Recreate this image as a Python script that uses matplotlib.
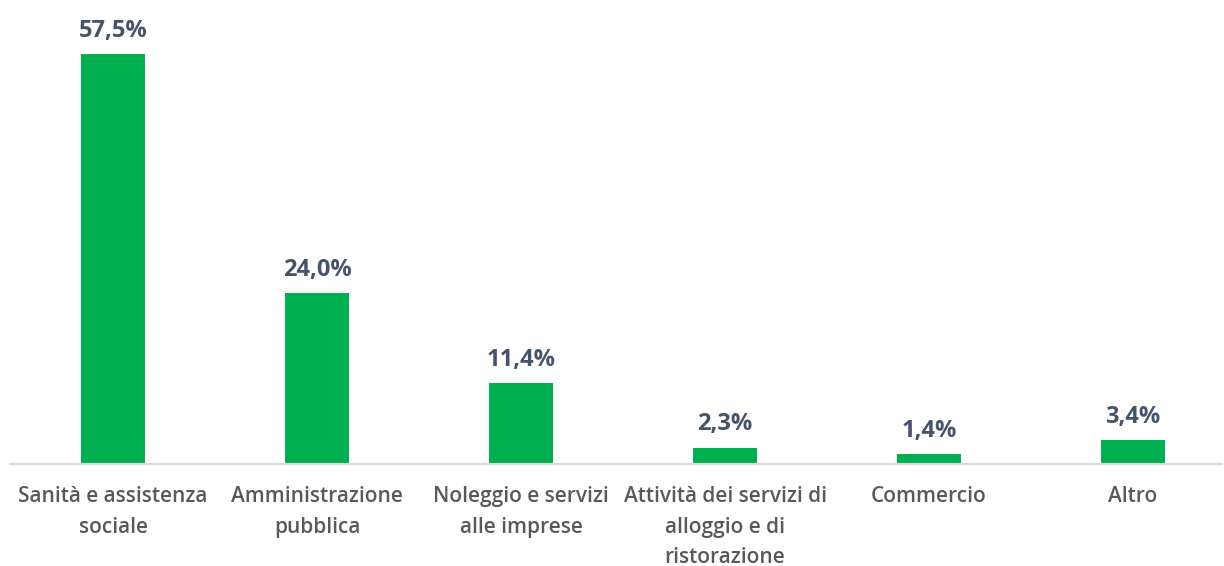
import matplotlib
matplotlib.use("Agg")
import matplotlib.pyplot as plt

categorie = ["Sanità e assistenza\nsociale", "Amministrazione\npubblica",
             "Noleggio e servizi\nalle imprese", "Attività dei servizi di\nalloggio e di\nristorazione",
             "Commercio", "Altro"]
valori = [57.5, 24.0, 11.4, 2.3, 1.4, 3.4]
etichette = ["57,5%", "24,0%", "11,4%", "2,3%", "1,4%", "3,4%"]

plt.rcParams['font.family'] = ['Open Sans', 'DejaVu Sans']

fig = plt.figure(figsize=(12.24, 5.66), dpi=100)
ax = fig.add_axes([10/1224, 102/566, 1212/1224, 464/566])

x = range(len(valori))
bars = ax.bar(x, valori, width=0.314, color='#00B050')

for b, t in zip(bars, etichette):
    ax.annotate(t, (b.get_x() + b.get_width()/2, b.get_height()),
                xytext=(0, 8), textcoords='offset points', ha='center', va='bottom',
                fontsize=17, fontweight='bold', color='#44546A')

ax.set_xlim(-0.505, 5.436)
ax.set_ylim(0, 65.1)
ax.set_xticks(list(x))
ax.set_xticklabels(categorie, fontsize=15, fontweight='semibold', color='#595959',
                   linespacing=1.6)
ax.tick_params(axis='x', length=0, pad=16)
ax.set_yticks([])
for s in ['top', 'right', 'left']:
    ax.spines[s].set_visible(False)
ax.spines['bottom'].set_color('#D9D9D9')
ax.spines['bottom'].set_linewidth(1.5)

fig.savefig('out.png', dpi=100)
